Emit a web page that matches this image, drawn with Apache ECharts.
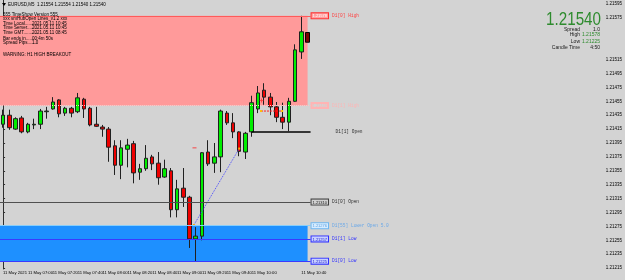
<!DOCTYPE html>
<html><head><meta charset="utf-8">
<script src="https://cdn.jsdelivr.net/npm/echarts@6/dist/echarts.min.js"></script>
<style>html,body{margin:0;padding:0;background:#d3d3d3}#c{width:625px;height:280px}</style>
</head><body><div id="c"></div>
<script>
// ---- data ----
const barTimes = ['06:40','06:45','06:50','06:55','07:00','07:05','07:10','07:15','07:20','07:25','07:30','07:35','07:40','07:45','07:50','07:55','08:00','08:05','08:10','08:15','08:20','08:25','08:30','08:35','08:40','08:45','08:50','08:55','09:00','09:05','09:10','09:15','09:20','09:25','09:30','09:35','09:40','09:45','09:50','09:55','10:00','10:05','10:10','10:15','10:20','10:25','10:30','10:35','10:40','10:45'];
const opens  = [1.21422,1.21435,1.21415,1.21431,1.21411,1.21421,1.21422,1.21440,1.21444,1.21457,1.21438,1.21445,1.21440,1.21458,1.21445,1.21422,1.21418,1.21415,1.21391,1.21363,1.21386,1.21394,1.21353,1.21358,1.21375,1.21366,1.21346,1.21355,1.21299,1.21330,1.21317,1.21257,1.21261,1.21382,1.21366,1.21375,1.21438,1.21424,1.21411,1.21382,1.21411,1.21444,1.21471,1.21461,1.21447,1.21432,1.21425,1.21455,1.21526,1.21554];
const closes = [1.21435,1.21417,1.21430,1.21411,1.21422,1.21422,1.21441,1.21441,1.21454,1.21437,1.21445,1.21438,1.21460,1.21444,1.21421,1.21419,1.21415,1.21389,1.21363,1.21388,1.21392,1.21352,1.21358,1.21373,1.21365,1.21345,1.21358,1.21299,1.21329,1.21317,1.21257,1.21261,1.21381,1.21365,1.21375,1.21441,1.21424,1.21411,1.21383,1.21409,1.21453,1.21467,1.21461,1.21447,1.21432,1.21425,1.21455,1.21529,1.21555,1.21540];
const lows   = [1.21417,1.21414,1.21414,1.21409,1.21409,1.21415,1.21415,1.21430,1.21443,1.21432,1.21434,1.21432,1.21438,1.21431,1.21419,1.21418,1.21404,1.21368,1.21349,1.21343,1.21360,1.21337,1.21342,1.21355,1.21356,1.21335,1.21345,1.21288,1.21288,1.21303,1.21244,1.21225,1.21255,1.21362,1.21352,1.21353,1.21421,1.21402,1.21376,1.21372,1.21404,1.21438,1.21450,1.21435,1.21425,1.21415,1.21412,1.21454,1.21516,1.21540];
const highs  = [1.21443,1.21443,1.21432,1.21434,1.21424,1.21430,1.21444,1.21447,1.21461,1.21458,1.21447,1.21447,1.21467,1.21460,1.21447,1.21447,1.21421,1.21418,1.21399,1.21399,1.21401,1.21398,1.21365,1.21392,1.21378,1.21382,1.21371,1.21359,1.21342,1.21359,1.21319,1.21274,1.21382,1.21399,1.21395,1.21443,1.21441,1.21438,1.21412,1.21411,1.21463,1.21477,1.21481,1.21467,1.21454,1.21453,1.21460,1.21537,1.21578,1.21554];

const xTickIndex = [0,4,8,12,16,20,24,28,32,36,40,44,48];
const xTickText = ['11 May 2021','11 May 07:00','11 May 07:20','11 May 07:40','11 May 08:00','11 May 08:20','11 May 08:40','11 May 09:00','11 May 09:20','11 May 09:40','11 May 10:00','11 May 10:20','11 May 10:40'];
const yTicks = [1.21215,1.21235,1.21255,1.21275,1.21295,1.21315,1.21335,1.21355,1.21375,1.21395,1.21415,1.21435,1.21455,1.21475,1.21495,1.21515,1.21535,1.21555,1.21575,1.21595];
const yTickLabels = [1.21215,1.21235,1.21255,1.21275,1.21295,1.21315,1.21335,1.21355,1.21375,1.21395,1.21415,1.21435,1.21455,1.21475,1.21495,1.21515,1.21575,1.21595];

const bid = 1.21540, ask = 1.21550;
const roundSolid = [1.21500, 1.21400, 1.21300];
const roundDash  = [1.21450, 1.21350, 1.21250];
// daily levels
const d1High0 = 1.21578, d1High1 = 1.21449, d1Open1 = 1.21411, d1Open0 = 1.21310;
const d1LowerOpen55 = 1.21276, d1Low1 = 1.21257, d1Low0 = 1.21225;
// trade marks [slot, price]
const tradePath = [[30.7, 1.21277], [38.0, 1.21387]];
const orderPath = [[41.5, 1.21441], [44.9, 1.21441]];
const redDash = [[30.8, 1.21388]];
const redPlus = [[41.6, 1.21456]];

const infoLeft = [
  ['Time Local..........', '2021.05.11 10:45'],
  ['Time Server........', '2021.05.11 10:45'],
  ['Time GMT...........', '2021.05.11 08:45'],
  ['Bar ends in........', '00:4m 50s'],
  ['Spread Pips........', '1.0']
];
const infoRight = [['Spread','1.0'],['High','1.21578'],['Low','1.21225'],['Candle Time','4:50']];

// ---- build ----
const SLOTS = 97;
const categories = barTimes.concat(Array.from({length: SLOTS - barTimes.length}, (_, k) => 'f' + (k + 1)));
const ohlc = opens.map((o, i) => {
  const v = [o, closes[i], lows[i], highs[i]];
  if (i === opens.length - 1) return {value: v, itemStyle: {color0: '#7a0000', borderColor0: '#000'}};
  return v;
});
const SANS = 'Liberation Sans', MONO = 'Liberation Mono';
const XMAX = 49.48;

function level(price, x0, x1, color, type, width, box, text, textColor, dist) {
  const rich = {
    b: {fontFamily: SANS, fontSize: 4, color: box ? box.text : textColor, backgroundColor: box ? box.bg : 'transparent',
        borderColor: box ? box.border : 'transparent', borderWidth: box ? 1 : 0, padding: [1, 1, 0, 1]},
    t: {fontFamily: MONO, fontSize: 4.5, color: textColor, padding: [0, 0, 0, 4]}
  };
  return [
    {coord: [x0, price], lineStyle: {color, type, width},
     label: {show: true, position: 'end', distance: dist, formatter: (box ? '{b|' + price.toFixed(5) + '}' : '') + '{t|' + text + '}', rich}},
    {coord: [x1, price]}
  ];
}

const dashDot = [4, 2, 1, 2];
const greyLines = [];
roundSolid.forEach(p => greyLines.push({yAxis: p, lineStyle: {color: 'rgba(90,90,90,0.45)', type: 'solid', width: 1}, label: {show: false}}));
roundDash.forEach(p => greyLines.push({yAxis: p, lineStyle: {color: 'rgba(90,90,90,0.45)', type: dashDot, width: 1}, label: {show: false}}));
greyLines.push({yAxis: ask, lineStyle: {color: '#a0a0a6', type: 'solid', width: 1},
  label: {show: true, position: 'end', distance: 1, formatter: ask.toFixed(5), fontFamily: SANS, fontSize: 4, color: '#000', backgroundColor: '#a8a8a8', padding: [1, 1, 1, 1]}});
greyLines.push({yAxis: bid, lineStyle: {color: '#a0a0a6', type: 'solid', width: 1},
  label: {show: true, position: 'end', distance: 1, formatter: bid.toFixed(5), fontFamily: SANS, fontSize: 4, color: '#fff', backgroundColor: '#000', padding: [1, 1, 1, 1]}});

const d1Lines = [
  level(d1High0, -0.5, XMAX, '#ff5a5a', 'solid', 1, {bg: '#ffa0a0', border: '#ff3030', text: '#ffffff'}, 'D1[0] High', '#ff4040', 1),
  level(d1High1, -0.5, XMAX, '#ffc4c4', 'dotted', 1, {bg: 'transparent', border: '#ffb4b4', text: '#ffb4b4'}, 'D1[1] High', '#ffb4b4', 1),
  level(d1Open1, 40, XMAX, '#000000', 'solid', 1.5, null, 'D1[1] Open', '#303030', 21),
  level(d1Open0, -0.5, XMAX, '#505050', 'solid', 1, {bg: '#d0d0d0', border: '#404040', text: '#202020'}, 'D1[0] Open', '#303030', 1),
  level(d1LowerOpen55, -0.5, XMAX, '#87cefa', 'solid', 1, {bg: '#d6ecff', border: '#6fb6f0', text: '#5a9ee0'}, 'D1[55] Lower Open 5.0', '#6aa8e8', 1),
  level(d1Low1, -0.5, XMAX, '#3a3aff', 'solid', 1, {bg: '#c8d0ff', border: '#3030ff', text: '#2020d0'}, 'D1[1] Low', '#3030ff', 1),
  level(d1Low0, -0.5, XMAX, '#3a3aff', 'solid', 1, {bg: '#c8d0ff', border: '#3030ff', text: '#2020d0'}, 'D1[0] Low', '#3030ff', 1)
];

const gfx = [];
gfx.push({type: 'polygon', z: 100, shape: {points: [[2, 3], [6, 3], [4, 6]]}, style: {fill: '#000'}});
function txt(x, y, s, opt) {
  gfx.push({type: 'text', z: 100, x, y, scaleX: (opt && opt.sx) || 1, style: Object.assign({text: s, fontFamily: SANS, fontSize: 4.5, fill: '#000', verticalAlign: 'middle', align: 'left'}, opt && opt.style)});
}
txt(8, 4.5, 'EURUSD,M5  1.21554 1.21554 1.21540 1.21540');
txt(3, 14.5, '555 TimeShow Version 555');
txt(3, 19, 'xxx smHubOpen Lines_v1.2 xxx');
const rowsY = [23.3, 27.7, 32.3, 38.3, 42.3];
infoLeft.forEach((r, i) => { txt(3, rowsY[i], r[0]); txt(32, rowsY[i], r[1]); });
txt(3, 55, 'WARNING: H1 HIGH BREAKOUT');
txt(601, 20, '1.21540', {sx: 0.8, style: {fontSize: 19, fill: '#2e8b2e', align: 'right'}});
const rY = [30, 35, 41.5, 47.5];
infoRight.forEach((r, i) => {
  txt(580, rY[i], r[0], {style: {fontSize: 5, align: 'right', fill: '#202020'}});
  txt(600, rY[i], r[1], {style: {fontSize: 5, align: 'right', fill: (i === 1 || i === 2) ? '#2e8b2e' : '#202020'}});
});

const chart = echarts.init(document.getElementById('c'), null, {renderer: 'canvas'});
chart.setOption({
  animation: false,
  backgroundColor: '#d3d3d3',
  grid: {left: -1.5, right: 18, top: 0, bottom: 11},
  xAxis: [
    {type: 'category', data: categories, boundaryGap: true,
     axisLine: {show: false}, axisTick: {show: false}, splitLine: {show: false},
     axisLabel: {interval: (i) => xTickIndex.indexOf(i) >= 0, formatter: (v, i) => xTickText[xTickIndex.indexOf(i)],
                 hideOverlap: false, showMinLabel: true, showMaxLabel: true,
                 align: 'left', fontFamily: SANS, fontSize: 4.2, color: '#000', margin: 2}},
    {type: 'value', min: -0.5, max: SLOTS - 0.5, show: false}
  ],
  yAxis: [{type: 'value', position: 'right', min: 1.2121371, max: 1.2160076, scale: true,
    splitLine: {show: false},
    axisLine: {show: true, lineStyle: {color: '#303030'}},
    axisTick: {show: true, length: 2, customValues: yTicks, lineStyle: {color: '#303030'}},
    axisLabel: {customValues: yTickLabels, formatter: (v) => v.toFixed(5), hideOverlap: false, fontFamily: SANS, fontSize: 4.5, color: '#000', margin: 3}}],
  series: [
    {type: 'line', name: 'zones', xAxisIndex: 1, data: [], z: 0, silent: true,
     markArea: {silent: true, data: [
       [{coord: [-0.5, d1High0], itemStyle: {color: '#ff9a9a'}}, {coord: [49, d1High1]}],
       [{coord: [-0.5, d1LowerOpen55], itemStyle: {color: '#1e90ff'}}, {coord: [49, d1Low0]}]
     ]}},
    {type: 'line', name: 'levels', xAxisIndex: 1, data: [], z: 1, silent: true,
     markLine: {silent: true, symbol: 'none', animation: false, data: greyLines}},
    {type: 'candlestick', name: 'EURUSD', xAxisIndex: 0, data: ohlc, barWidth: 4, z: 2,
     itemStyle: {color: '#00ee00', color0: '#ee0000', borderColor: '#202020', borderColor0: '#202020', borderWidth: 1}},
    {type: 'line', name: 'd1', xAxisIndex: 1, data: [], z: 3, silent: true,
     markLine: {silent: true, symbol: 'none', animation: false, data: d1Lines}},
    {type: 'line', name: 'trade', xAxisIndex: 1, data: tradePath, z: 4, silent: true,
     lineStyle: {color: '#4a4aff', type: [1, 1], width: 1}, symbol: 'rect', symbolSize: 2,
     itemStyle: {color: '#ffb000'}},
    {type: 'line', name: 'order', xAxisIndex: 1, data: orderPath, z: 4, silent: true,
     lineStyle: {color: '#ff2020', type: [2, 1], width: 1}, symbol: 'rect', symbolSize: 2,
     itemStyle: {color: '#ffc000'}},
    {type: 'scatter', name: 'dash', xAxisIndex: 1, data: redDash, z: 4, silent: true, symbol: 'rect', symbolSize: [4, 1], itemStyle: {color: '#ff2020'}},
    {type: 'scatter', name: 'plus', xAxisIndex: 1, data: redPlus, z: 4, silent: true,
     symbol: 'path://M0 2h5v1h-5z M2 0h1v5h-1z', symbolSize: 4, itemStyle: {color: '#ff2020'}}
  ],
  graphic: {elements: gfx}
});
</script></body></html>
